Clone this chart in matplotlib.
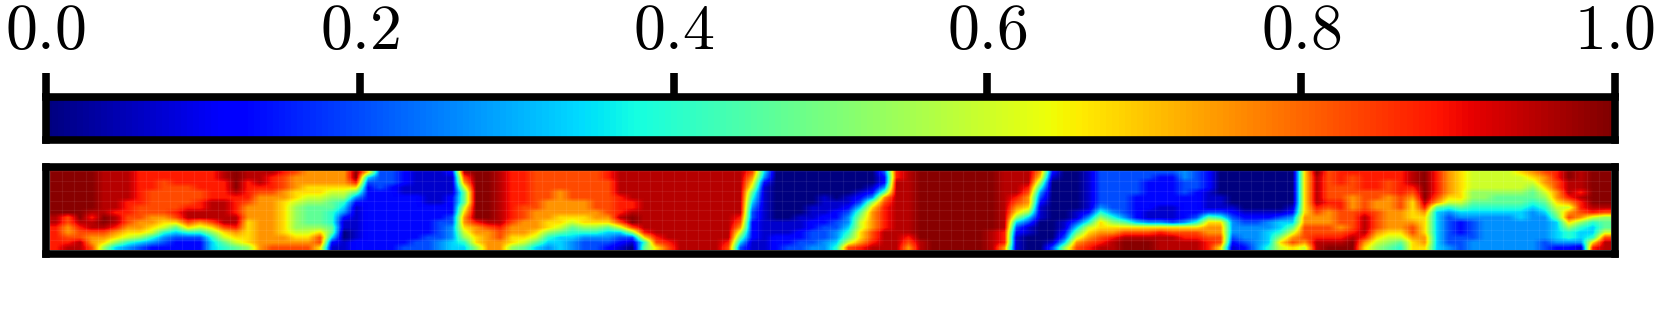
import numpy as np
import matplotlib
matplotlib.use("Agg")
import matplotlib.pyplot as plt

plt.rcParams['mathtext.fontset'] = 'cm'

W, H = 1661, 310

# field, one string per column (top to bottom), one hex digit per cell
cols_a = [
    "fffffffffeeddddd", "fffffffffccbbcde", "ffffffffffedccee", "ffffffffedeecbbc",
    "eeeeeeeeeffecba8", "eeeeeeeedeedba85", "eeeeeedddccba964", "dddddddcccbba853",
    "ddddcccccbba9642", "ddcccccccba96432", "dddcccccdca75322", "dddccccdeeca6322",
    "ddddccddeeb96322", "ddddddeeeeca8655", "eeddddeeeeeca976", "ffffeddddeedba97",
    "eeddddcbbbaaaaa8", "eeedcbbbbbbbbbbb", "edddcbbbbbbbbbbc", "dcccbbaaaaaaabbc",
    "cbbbaa9888889abc", "bbbaa98777789abc",
]
cols_b = [
    "bbbaa9877778acca", "bbba987766677521", "bbba986542110011", "ffda742111111122",
    "a532222222222222", "3333222222222222", "3332222222222222", "2221122222222223",
    "1111122222222233", "1111111222222333", "1111111222333344", "2111122223344455",
    "ecb97779abba9865", "ffffffffffdbbaa8", "ffffffffffecbbbb", "eeeeeeeeeeedccbb",
    "ddddddddddcbbaa8", "dddddddcccbbba97", "ccccccccbbbba975", "ccccccbbbbaa8654",
    "ccccbbbbbaa97555",
]
cols_c = [
    "ccccccbbba976544", "ccccccbbbaa86433", "ccccccccbba86433", "ddcccccccba75432",
    "eeeeeddddec95321", "eeeeeeddeffc8310", "eeeeeeeeeeeeda67", "eeeeeeeeeeeeedca",
    "eeeeeeeeeeeeeedc", "eeeeeeeeeeeeeeee", "eeeeeeeeeeeeeeee", "eeeeeeeeeeeeeeee",
    "eeeeeeeeeeeeeeee", "eeeeeeeeeeeeeedc", "eeeeeeeeedcb9753", "cba9765433222211",
    "5421111111111111", "0000000000111222", "0000000000111223", "0000000001112233",
    "0000000111223334", "0000011112233344",
]
cols_d = [
    "0000001122334456", "000001123445679c", "000012357899aabd", "0001248abbbbccde",
    "32247bcdddddeeee", "ddeeeeeeeeeeeeee", "eeeeeeeeeeeeedcb", "ffffffffffffffee",
    "ffffffffffffffff", "ffffffffffffffff", "ffffffffffffffff", "ffffffffffffffff",
    "ffffffffffffffff", "ffffffffffffeeee", "eeeeeeeeeeeedddb", "eeeeedcba8532111",
    "eeedcbba85311000", "ba86432111000000", "2100000000000013", "0000000000112358",
    "00000000113579bc", "111111112469abcd",
]
cols_e = [
    "3333333468aabcde", "33333333468abdee", "33333333347aceff", "33333222225aceff",
    "33222222114aceff", "32222221114adeee", "32222221113aceee", "44333222224acdee",
    "33332222236acdee", "2222111137abbcdd", "0000011136abbcca", "0000000123444321",
    "0000000012344432", "0000000012344444", "0000000012445556", "00000000135568a9",
    "0000000124579bca", "aaaaaaaaabbcccb9", "feeeeeedcbbccdee", "ccccccdcbbbccdef",
    "dddcccddcccbcdef", "dccccbbbccccdeff",
]
cols_f = [
    "ddddccccdeeeedba", "ddddccbbccccba98", "ddcccbbbbbbba987", "dddddcccbbbba976",
    "eeedcbaaaabccbaa", "ffffffedbaaaabba", "dddddcb755555555", "bbbbba9643333334",
    "aaaaaa9754222333", "9999887654333344", "9999887654444444", "9999877654444444",
    "9999877654444444", "a999877655444444", "ba98776544444444", "cbba987654444433",
    "ddccbba987555542", "ffeeedb9bca86642", "eeeededdcb865541", "fffffffed96556ad",
    "fffffffec8779cee",
]
# value of each hex digit on the colour scale
levels = [0.0, 0.067, 0.13, 0.2, 0.267, 0.333, 0.4, 0.467, 0.533, 0.6, 0.675,
          0.75, 0.83, 0.88, 0.95, 0.99]
ticks = [0.0, 0.2, 0.4, 0.6, 0.8, 1.0]
tick_labels = ['$0.0$', '$0.2$', '$0.4$', '$0.6$', '$0.8$', '$1.0$']

columns = cols_a + cols_b + cols_c + cols_d + cols_e + cols_f
for c in columns:
    assert len(c) == 16, c
field = np.array([[levels[int(ch, 16)] for ch in c] for c in columns]).T
nrows, ncols = field.shape


def px_axes(fig, x0, y0, x1, y1):
    # rectangle in image pixels, y down
    return fig.add_axes([x0 / W, 1 - y1 / H, (x1 - x0) / W, (y1 - y0) / H])


fig = plt.figure(figsize=(W / 100, H / 100), dpi=100)
lw = 7.6 * 72 / 100

# colour bar
cax = px_axes(fig, 46, 96.5, 1615, 140)
cax.imshow(np.linspace(0, 1, 256)[None, :], cmap='jet', vmin=0, vmax=1, aspect='auto',
           extent=(0, 1, 0, 1))
cax.set_xlim(0, 1)
cax.set_ylim(0, 1)
cax.set_yticks([])
cax.xaxis.tick_top()
cax.set_xticks(ticks)
cax.set_xticklabels(tick_labels)
cax.tick_params(axis='x', length=24.5 * 0.72, width=lw, labelsize=46, pad=7.5)

# field
ax = px_axes(fig, 46, 166.5, 1615, 253.5)
ax.imshow(field, cmap='jet', vmin=0, vmax=1, aspect='auto', interpolation='bilinear',
          extent=(0, ncols, nrows, 0))
ax.vlines(np.arange(ncols), 0, nrows, color='white', lw=0.9, alpha=0.07)
ax.hlines(np.arange(0, nrows, 2), 0, ncols, color='white', lw=0.9, alpha=0.07)
ax.set_xlim(-4 / 12, ncols + 4 / 12)
ax.set_ylim(nrows + 3.5 / 5, -4.5 / 5)
ax.set_xticks([])
ax.set_yticks([])

for a in (cax, ax):
    for s in a.spines.values():
        s.set_linewidth(lw)
        s.set_color('black')

fig.savefig('out.png', dpi=100)
